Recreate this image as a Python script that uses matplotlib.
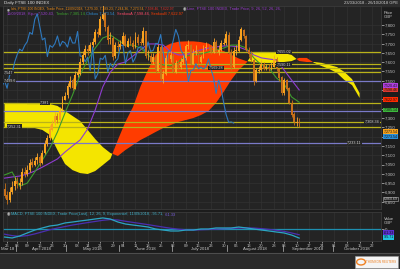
import matplotlib
matplotlib.use('Agg')
import matplotlib.pyplot as plt
import matplotlib.transforms as mtrans
import numpy as np
import pandas as pd
from matplotlib.patches import Rectangle, Circle

# ---------------- DATA ----------------
holidays = ['2018-03-30', '2018-04-02', '2018-05-07', '2018-05-28', '2018-08-27']
closes = [6880, 6860, 6905, 6930, 6960,
          6945, 6950, 7010, 7000, 7020, 7060, 7050, 7070, 7090, 7060, 7110, 7160, 7190, 7240, 7270, 7310, 7290, 7340, 7400, 7420,
          7470, 7500, 7460, 7530, 7540, 7600, 7640, 7670, 7660, 7690, 7710, 7760, 7750, 7830, 7860, 7790, 7720, 7730, 7630, 7690, 7680,
          7700, 7741, 7686, 7712, 7704, 7681, 7737, 7703, 7703, 7765, 7633, 7631, 7603, 7627, 7556, 7682, 7510, 7537, 7621, 7615, 7637,
          7547, 7593, 7573, 7603, 7618, 7688, 7692, 7592, 7651, 7662, 7600, 7626, 7676, 7683, 7679, 7655, 7709, 7658, 7663, 7701, 7700, 7749,
          7653, 7575, 7659, 7663, 7718, 7776, 7741, 7667, 7642, 7612, 7497, 7556, 7558, 7592, 7565, 7574, 7563, 7577, 7617, 7563, 7516, 7432,
          7504, 7457, 7383, 7318, 7277, 7279, 7273]
opens = [6920, 6885, 6862, 6900, 6932,
         6962, 6940, 6955, 7012, 6998, 7022, 7062, 7048, 7072, 7088, 7058, 7112, 7158, 7192, 7238, 7272, 7312, 7288, 7342, 7398,
         7422, 7468, 7502, 7458, 7532, 7538, 7602, 7638, 7672, 7658, 7692, 7708, 7762, 7748, 7832, 7862, 7788, 7722, 7728, 7632, 7688,
         7682, 7698, 7743, 7684, 7714, 7702, 7683, 7735, 7705, 7701, 7767, 7631, 7633, 7601, 7629, 7554, 7684, 7508, 7539, 7619, 7617,
         7635, 7549, 7591, 7575, 7601, 7620, 7686, 7694, 7590, 7653, 7660, 7602, 7624, 7678, 7681, 7681, 7653, 7711, 7656, 7665, 7699, 7702,
         7747, 7655, 7573, 7661, 7661, 7720, 7774, 7743, 7665, 7644, 7610, 7499, 7554, 7560, 7590, 7567, 7572, 7565, 7575, 7619, 7561, 7518,
         7434, 7502, 7459, 7381, 7320, 7275, 7281]
highs = [6950, 6910, 6930, 6960, 6985,
         6985, 6975, 7030, 7035, 7045, 7080, 7085, 7090, 7110, 7100, 7130, 7180, 7210, 7260, 7290, 7330, 7325, 7360, 7420, 7440,
         7490, 7525, 7515, 7550, 7565, 7620, 7660, 7690, 7690, 7710, 7730, 7780, 7785, 7850, 7905, 7870, 7800, 7760, 7740, 7710, 7715,
         7720, 7760, 7750, 7730, 7740, 7720, 7760, 7750, 7730, 7790, 7770, 7665, 7650, 7650, 7640, 7700, 7690, 7560, 7640, 7650, 7660,
         7650, 7610, 7610, 7620, 7640, 7700, 7720, 7700, 7670, 7690, 7670, 7640, 7690, 7710, 7700, 7690, 7730, 7720, 7690, 7720, 7730, 7770,
         7760, 7670, 7680, 7690, 7740, 7790, 7780, 7745, 7680, 7660, 7625, 7570, 7580, 7610, 7600, 7590, 7590, 7600, 7640, 7630, 7570, 7525,
         7515, 7510, 7465, 7395, 7330, 7305, 7300]
lows = [6870, 6840, 6850, 6890, 6915,
        6925, 6920, 6940, 6985, 6990, 7010, 7035, 7040, 7055, 7040, 7055, 7105, 7150, 7180, 7230, 7260, 7275, 7285, 7330, 7395,
        7410, 7460, 7450, 7455, 7520, 7530, 7590, 7630, 7640, 7655, 7680, 7700, 7735, 7745, 7825, 7770, 7700, 7700, 7610, 7625, 7660,
        7670, 7695, 7680, 7680, 7690, 7670, 7675, 7695, 7690, 7695, 7620, 7610, 7590, 7590, 7540, 7550, 7500, 7490, 7530, 7590, 7600,
        7540, 7540, 7560, 7565, 7590, 7610, 7670, 7585, 7590, 7640, 7590, 7595, 7620, 7665, 7665, 7645, 7650, 7650, 7640, 7660, 7690, 7695,
        7645, 7560, 7570, 7640, 7655, 7715, 7730, 7660, 7630, 7600, 7480, 7495, 7540, 7555, 7560, 7560, 7550, 7560, 7575, 7555, 7500, 7425,
        7425, 7450, 7375, 7305, 7265, 7255, 7250]

# Ichimoku lines sampled every 3 trading days
line_step = 3
tenkan = [6994, 7010, 6934, 6950, 7010, 7074, 7139, 7225, 7327, 7424, 7531, 7612, 7676, 7730, 7746, 7719, 7692, 7692, 7676, 7639,
          7601, 7585, 7580, 7601, 7633, 7639, 7644, 7655, 7666, 7676, 7692, 7692, 7676, 7623, 7585, 7569, 7515, 7483, 7413, 7385]
kijun = [6977, 6983, 6988, 6999, 7015, 7036, 7058, 7080, 7117, 7150, 7182, 7241, 7343, 7467, 7547, 7590, 7601, 7633, 7666, 7698,
         7698, 7692, 7655, 7639, 7639, 7655, 7666, 7676, 7682, 7687, 7687, 7682, 7666, 7639, 7623, 7617, 7612, 7558, 7504, 7451]
senkou_a = [7381, 7381, 7381, 7375, 7375, 7375, 7375, 7365, 7338, 7311, 7284, 7236, 7187, 7144, 7112, 7096,
            7128, 7155, 7182, 7203, 7225, 7246, 7262, 7279, 7289, 7300, 7316, 7338, 7381, 7440, 7504, 7558,
            7596, 7655, 7655, 7655, 7649, 7649, 7639, 7606, 7601, 7601, 7596, 7585, 7574, 7547, 7509, 7434]
senkou_b = [7252, 7252, 7252, 7246, 7246, 7236, 7209, 7128, 7053, 7020, 7004, 6999, 7015, 7047, 7080, 7182,
            7279, 7359, 7470, 7560, 7640, 7680, 7700, 7710, 7712, 7712, 7708, 7700, 7675, 7660, 7640, 7620,
            7606, 7601, 7596, 7596, 7596, 7601, 7606, 7623, 7623, 7596, 7579, 7563, 7542, 7504, 7477, 7408]
chikou_shift = 26

macd = [-85, -95, -74, -42, -11, 11, 32, 42, 64, 74, 85, 95, 106, 117, 106, 74, 53, 42, 32, 21,
        0, -11, -21, -21, -11, -11, 0, 0, 11, 11, 11, 21, 11, 0, -11, -21, -32, -42, -64, -96]
signal = [-55, -70, -78, -70, -52, -30, -8, 10, 26, 42, 55, 68, 80, 92, 100, 95, 82, 70, 58, 46,
          33, 20, 8, -2, -8, -10, -8, -5, -1, 3, 6, 10, 12, 10, 4, -4, -14, -25, -42, -61]

hline_vals = [7655, 7590, 7569, 7547, 7499, 7381, 7338, 7279, 7252, 7166]
hline_kind = ['y', 'y', 'y', 'y', 'b', 'y', 'b', 'y', 'y', 'b']
# (price of line, text, trading-day index where the tag sits)
hline_tags = [(7279, '7,308.34', 146), (7166, '7,233.11', 139), (7547, '7,547', 1.5), (7499, '7,499.6', 2),
              (7381, '7,381', 16), (7252, '7,252.31', 4), (7569, '7,569.28', 84), (7655, '7,655.02', 111),
              (7590, '7,590.11', 111)]

week_labels = ['26', '03', '09', '16', '23', '30', '08', '14', '21', '29', '04', '11', '18', '25', '02', '09', '16', '23', '30',
               '06', '13', '20', '28', '03', '10', '17', '24', '01', '08', '15', '22']
week_dates = ['2018-03-26', '2018-04-03', '2018-04-09', '2018-04-16', '2018-04-23', '2018-04-30', '2018-05-08', '2018-05-14',
              '2018-05-21', '2018-05-29', '2018-06-04', '2018-06-11', '2018-06-18', '2018-06-25', '2018-07-02', '2018-07-09',
              '2018-07-16', '2018-07-23', '2018-07-30', '2018-08-06', '2018-08-13', '2018-08-20', '2018-08-28', '2018-09-03',
              '2018-09-10', '2018-09-17', '2018-09-24', '2018-10-01', '2018-10-08', '2018-10-15', '2018-10-22']
month_names = ['Mar 18', 'April 2018', 'May 2018', 'June 2018', 'July 2018', 'August 2018', 'September 2018', 'October 2018']
month_starts = ['2018-03-23', '2018-04-03', '2018-05-01', '2018-06-01', '2018-07-02', '2018-08-01', '2018-09-03', '2018-10-01']
hidden_tick_labels = [7450, 7400, 7350, 7200]

# ---------------- CALENDAR ----------------
days = pd.bdate_range('2018-03-23', '2018-10-26')
days = days[~days.isin(pd.to_datetime(holidays))]
pos = {d.strftime('%Y-%m-%d'): i for i, d in enumerate(days)}
n = len(closes)
xi = np.arange(n)
line_x = np.arange(len(tenkan)) * line_step
cloud_x = np.arange(len(senkou_a)) * line_step

# ---------------- FIGURE ----------------
W, H = 400, 269
fig = plt.figure(figsize=(W / 100, H / 100), dpi=100)
fig.patch.set_facecolor('#1c1c1c')
plt.rcParams['font.family'] = ['Liberation Sans', 'DejaVu Sans']

def fx(p):
    return p / W

def fy(p):
    return 1 - p / H

L, R = 3.3, 381
T1, B1 = 6, 209
T2, B2 = 212, 241
ax = fig.add_axes([fx(L), fy(B1), fx(R) - fx(L), fy(T1) - fy(B1)])
ax2 = fig.add_axes([fx(L), fy(B2), fx(R) - fx(L), fy(T2) - fy(B2)])
for a in (ax, ax2):
    a.set_facecolor('#242424')
    for s in a.spines.values():
        s.set_color('#3a3a3a')
        s.set_linewidth(0.6)
    a.set_xlim(-0.5, 149.5)

ax.set_ylim(6811, 7902)
ax2.set_ylim(-127, 180)

wk_x = [pos[d] for d in week_dates]
for a in (ax, ax2):
    for x in wk_x:
        a.axvline(x, color='#323232', lw=0.5, zorder=0)
yt = np.arange(6850, 7801, 50)
for v in yt:
    ax.axhline(v, color='#323232', lw=0.5, zorder=0)

# cloud
sa = np.array(senkou_a, float)
sb = np.array(senkou_b, float)
ax.fill_between(cloud_x, sa, sb, where=sa >= sb, interpolate=True, color='#f4e500', lw=0, zorder=1)
ax.fill_between(cloud_x, sa, sb, where=sa < sb, interpolate=True, color='#ff3c00', lw=0, zorder=1)

# horizontal study lines
for v, k in zip(hline_vals, hline_kind):
    col = '#b9b21a' if k == 'y' else '#7a7ac8'
    ax.axhline(v, color=col, lw=0.9, zorder=2)
for v, s, xpos in hline_tags:
    ax.text(xpos, v, s, color='#d8d8d8', fontsize=2.7, va='center', ha='center', zorder=6,
            bbox=dict(boxstyle='square,pad=0.12', fc='#242424', ec='none'))

# ichimoku lines
ax.plot(line_x, kijun, color='#8e3ccf', lw=0.8, zorder=3)
ax.plot(line_x, tenkan, color='#3d9a2d', lw=0.8, zorder=3)
ax.plot(xi - chikou_shift, closes, color='#2e78bd', lw=0.8, zorder=3)

# candles
o = np.array(opens, float)
c = np.array(closes, float)
up = c >= o
ax.vlines(xi, lows, highs, color=np.where(up, '#f7a530', '#c97418'), lw=0.6, zorder=4)
ax.bar(xi, np.maximum(np.abs(c - o), 4), bottom=np.minimum(o, c), width=0.75,
       color=np.where(up, '#f9a21e', '#c8701a'), edgecolor='none', zorder=4)

# right axis
ax.yaxis.tick_right()
ax.set_yticks(yt)
ax.set_yticklabels(['' if v in hidden_tick_labels else f'{v:,}' for v in yt])
ax.tick_params(axis='y', colors='#c0c0c0', labelsize=3.2, length=2, width=0.5, pad=1)
ax.set_xticks([])

# MACD
ax2.axhline(0, color='#1e8fb0', lw=0.9, zorder=2)
ax2.plot(line_x, signal, color='#4b2fb0', lw=0.9, zorder=3)
ax2.plot(line_x, macd, color='#2ba6c4', lw=0.9, zorder=3)
ax2.yaxis.tick_right()
ax2.set_yticks([0])
ax2.set_yticklabels(['0'])
ax2.tick_params(axis='y', colors='#c0c0c0', labelsize=3.2, length=2, width=0.5, pad=1)
ax2.set_xticks(wk_x)
ax2.set_xticklabels(week_labels)
ax2.tick_params(axis='x', colors='#c0c0c0', labelsize=3.0, length=1.5, width=0.5, pad=0.8)

# month labels and separators
trans = mtrans.blended_transform_factory(ax2.transData, fig.transFigure)
ms = [pos[d] for d in month_starts] + [150]
for i, name in enumerate(month_names):
    xc = (ms[i] + ms[i + 1] - 1) / 2 if i > 0 else 1.4
    fig.text(xc, fy(249), name, transform=trans, color='#c8c8c8', fontsize=3.1,
             ha='center', va='center')
    if i > 0:
        fig.add_artist(plt.Line2D([ms[i] - 0.5] * 2, [fy(245), fy(251)], transform=trans,
                                  color='#bbbbbb', lw=0.5))

# separators / frames
fig.add_artist(Rectangle((0, 0), 1, fy(253), transform=fig.transFigure, color='#2a2a2a', zorder=-1))
fig.add_artist(plt.Line2D([0, 1], [fy(253), fy(253)], transform=fig.transFigure, color='#555555', lw=0.6))
fig.add_artist(Rectangle((fx(0), fy(5.5)), 1, fy(0) - fy(5.5), transform=fig.transFigure, color='#2c2c2c', zorder=-1))

# logo box
fig.add_artist(Rectangle((fx(355), fy(268)), fx(43), fy(256) - fy(268), transform=fig.transFigure,
                         fc='#f4f4f4', ec='#999999', lw=0.4))
fig.add_artist(Circle((fx(361), fy(262)), 0.011, transform=fig.transFigure, fc='none', ec='#f08020', lw=1.0))
fig.text(fx(366), fy(262), 'THOMSON REUTERS', color='#f08020', fontsize=2.2, va='center', ha='left')

# titles
fig.text(fx(4), fy(2.8), 'Daily FTSE 100 INDEX', color='#e0e0e0', fontsize=3.2, va='center', ha='left')
fig.text(fx(398), fy(2.8), '23/03/2018 - 26/10/2018 GPE', color='#d0d0d0', fontsize=3.0, va='center', ha='right')
fig.text(fx(384), fy(15), 'Price\nGBP', color='#c8c8c8', fontsize=3.0, va='center', ha='left', linespacing=1.0)
fig.text(fx(384), fy(221), 'Value\nGBP', color='#c8c8c8', fontsize=3.0, va='center', ha='left', linespacing=1.0)

renderer = fig.canvas.get_renderer()

def seq_text(x_px, y_px, parts, fs=2.8, max_x=None):
    while True:
        x = x_px
        made = []
        for s, col in parts:
            t = fig.text(fx(x), fy(y_px), s, color=col, fontsize=fs, va='center', ha='left')
            made.append(t)
            x += t.get_window_extent(renderer=renderer).width + 1
        if max_x is None or x <= max_x or fs < 1.6:
            return
        for t in made:
            t.remove()
        fs -= 0.1

seq_text(7, 9, [('\u25c9', '#d0d0d0'),
                ('Ichi, FTSE 100 INDEX, Trade Price, 11/09/2018, 7,279.30, 7,289.23, 7,244.36, 7,273.54,', '#e88a1a'),
                ('7,598.46, 7,622.97', '#e0302a')], max_x=180)
seq_text(183, 9, [('\u25c9', '#d0d0d0'), ('Line, FTSE 100 INDEX, Trade Price, 9, 26, 52, 26, 26,', '#9b3fd0')],
         max_x=300)
seq_text(7, 14, [('11/09/2018,', '#9b3fd0'), ('Kijun 7,520.43,', '#9b3fd0'), ('Tenkan 7,385.14,', '#3da52d'),
                 ('Chikou 7,273.54,', '#2e8ad0'), ('SenkouA 7,598.46,', '#ff4a6a'), ('SenkouB 7,622.97', '#ff3c00')])
seq_text(7, 214.5, [('\u25c9', '#d0d0d0'),
                    ('MACD, FTSE 100 INDEX, Trade Price(Last), 12, 26, 9, Exponential, 11/09/2018, -95.71,', '#3fb0c8'),
                    ('-61.33', '#7a5fe0')])

# right value boxes
boxes = [(85.5, '7,520.43', '#b040e0'), (90, '7,598.46', '#e03a30'), (99.5, '7,622.97', '#ff2a00'),
         (110, '7,385.14', '#3cb83c'), (131.5, '7,273.54', '#f7a21b'), (136.5, '7,273.54', '#2a8fd8'),
         (232.5, '-61.33', '#5a2fd0'), (237.5, '-95.71', '#20c0e0')]
for yb, s, col in boxes:
    fig.text(fx(383.5), fy(yb), s, color='#111111', fontsize=2.6, va='center', ha='left',
             bbox=dict(boxstyle='square,pad=0.1', fc=col, ec='none'))
fig.text(fx(383.5), fy(199), '6,860.69', color='#d0d0d0', fontsize=2.6, va='center', ha='left',
         bbox=dict(boxstyle='square,pad=0.1', fc='#1c1c1c', ec='#b0b0b0', lw=0.4))

fig.savefig('out.png', dpi=100, facecolor=fig.get_facecolor())
